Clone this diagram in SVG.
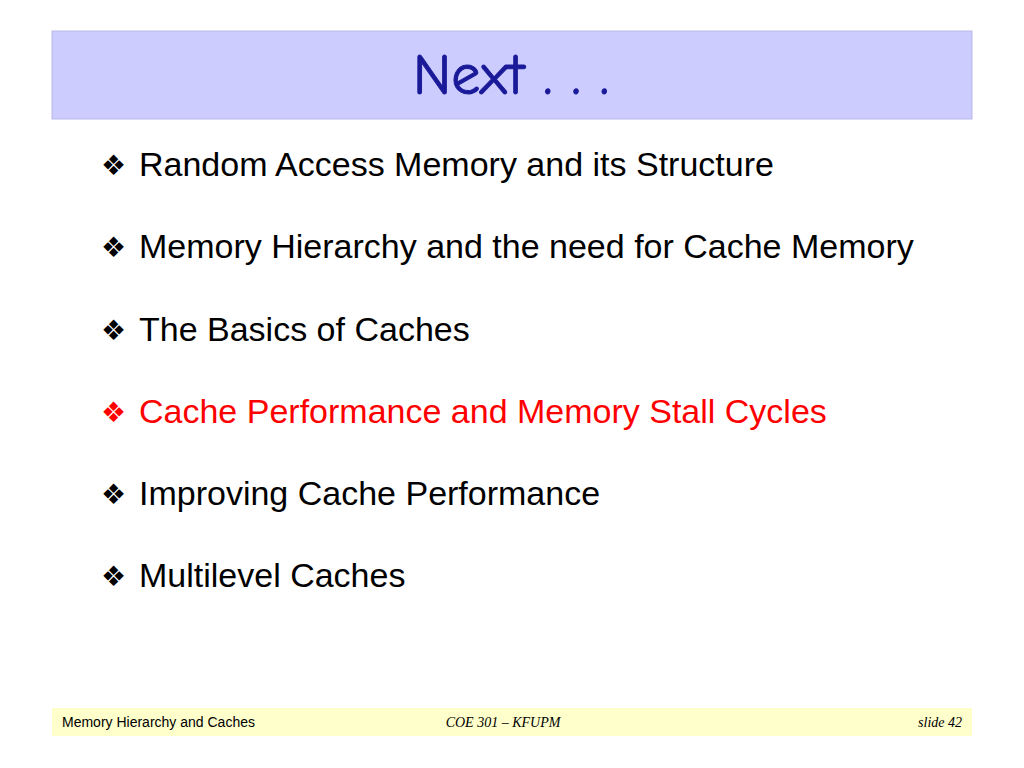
<svg xmlns="http://www.w3.org/2000/svg" width="1024" height="768" viewBox="0 0 1024 768">
<style>
.b{font-family:"Liberation Sans",Arial,sans-serif;font-size:34px;fill:#000}
.g{font-family:"DejaVu Sans",sans-serif;font-size:28px;fill:#000}
.r{fill:#ff0000}
.f{font-size:14px;fill:#000}
</style>
<rect width="1024" height="768" fill="#fff"/>
<g id="header">
<rect x="52" y="31" width="920" height="88" fill="#ccccff" stroke="#b8b8e8" stroke-width="1"/>
<text x="511" y="94" text-anchor="middle" font-family="'Comic Neue','DejaVu Sans',sans-serif" font-size="58" fill="#1a1a99" stroke="#1a1a99" stroke-width="1">Next . . .</text>
</g>
<g id="bullets">
<text x="101" y="175" class="g">❖</text><text x="139" y="176" class="b">Random Access Memory and its Structure</text>
<text x="101" y="257" class="g">❖</text><text x="139" y="258" class="b">Memory Hierarchy and the need for Cache Memory</text>
<text x="101" y="340" class="g">❖</text><text x="139" y="341" class="b">The Basics of Caches</text>
<text x="101" y="422" class="g r">❖</text><text x="139" y="423" class="b r">Cache Performance and Memory Stall Cycles</text>
<text x="101" y="504" class="g">❖</text><text x="139" y="505" class="b">Improving Cache Performance</text>
<text x="101" y="586" class="g">❖</text><text x="139" y="587" class="b">Multilevel Caches</text>
</g>
<g id="footer">
<rect x="52" y="708" width="920" height="28" fill="#ffffcc"/>
<text x="62" y="727" class="f" font-family="'Liberation Sans',Arial,sans-serif">Memory Hierarchy and Caches</text>
<text x="503" y="727" class="f" text-anchor="middle" font-family="'Liberation Serif',serif" font-style="italic">COE 301 – KFUPM</text>
<text x="962" y="727" class="f" text-anchor="end" font-family="'Liberation Serif',serif" font-style="italic">slide 42</text>
</g>
</svg>
